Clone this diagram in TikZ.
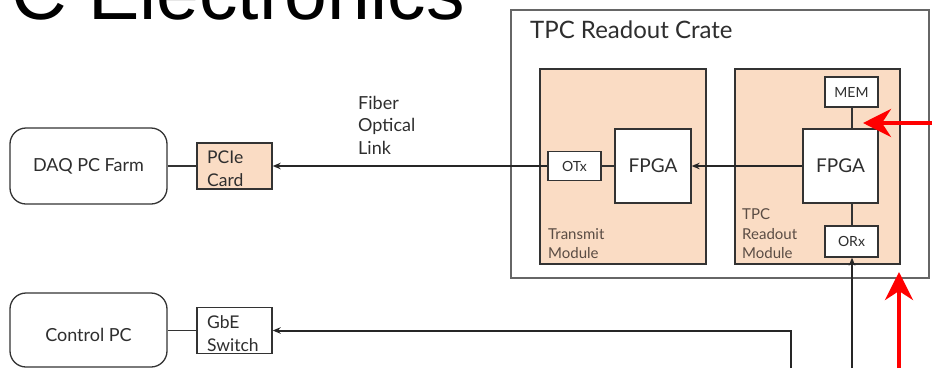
\documentclass[tikz,border=0pt]{standalone}
\usepackage{fontspec}
\setmainfont{Lato}
\newfontfamily\arialf{Liberation Sans}
\usetikzlibrary{arrows.meta}
\definecolor{peach}{HTML}{FADCC4}
\definecolor{txt}{HTML}{2E2E2E}
\definecolor{modtxt}{HTML}{5A4C44}
\definecolor{edge}{HTML}{333333}
\definecolor{crateedge}{HTML}{666666}
\definecolor{redarr}{HTML}{FF0000}
\begin{document}
\begin{tikzpicture}[x=1pt,y=-1pt,
  box/.style={draw=edge,line width=1.3pt,fill=white,inner sep=0pt,text=txt},
  modbox/.style={draw=edge,line width=1.4pt,fill=peach,inner sep=0pt},
  pcbox/.style={draw=edge,line width=1.3pt,rounded corners=16pt,fill=white,inner sep=0pt,text=txt,
    minimum width=157pt,font=\fontsize{18}{21}\selectfont},
  cardbox/.style={draw=edge,line width=1.4pt,inner sep=0pt,minimum width=75pt,minimum height=46pt},
  cardtext/.style={anchor=north west,align=left,inner sep=0pt,text=txt,font=\fontsize{17.5}{23}\selectfont},
  small/.style={font=\fontsize{14}{16}\selectfont},
  modlabel/.style={anchor=north west,align=left,inner sep=0pt,text=modtxt,font=\fontsize{15}{19.5}\selectfont},
  thin/.style={draw=edge,line width=1.3pt},
  flow/.style={draw=black!85,line width=2pt,-{Stealth[length=8pt,width=6.5pt]}},
  redflow/.style={draw=redarr,line width=4pt,-{Stealth[length=28pt,width=28pt,inset=9pt]}}
]
\useasboundingbox (0,0) rectangle (932,368);
\clip (0,0) rectangle (932,368);

% title
\node[anchor=base west,inner sep=0pt,font=\arialf\fontsize{77}{82}\selectfont] (title) at (11,19) {C Electronics};

% crate
\node[draw=crateedge,line width=1.6pt,fill=white,minimum width=418pt,minimum height=268pt,inner sep=0pt] (crate) at (720,144) {};
\node[anchor=base west,inner sep=0pt,text=txt,font=\fontsize{24}{28}\selectfont] (cratelbl) at (530,38) {TPC Readout Crate};

% modules
\node[modbox,minimum width=166pt,minimum height=195pt] (tmod) at (623,166.5) {};
\node[modbox,minimum width=165pt,minimum height=195pt] (rmod) at (817.5,166.5) {};
\node[modlabel] (tmodlbl) at (548,228) {Transmit\\Module};
\node[modlabel] (rmodlbl) at (742,208.5) {TPC\\Readout\\Module};

% inner boxes
\node[box,small,minimum width=53pt,minimum height=30pt] (mem) at (851.5,92) {MEM};
\node[box,font=\fontsize{19}{22}\selectfont,minimum width=75pt,minimum height=74pt] (fpgar) at (840.5,166) {FPGA};
\node[box,small,minimum width=53pt,minimum height=31pt] (orx) at (851.5,241.5) {ORx};
\node[box,font=\fontsize{19}{22}\selectfont,minimum width=76pt,minimum height=74pt] (fpgal) at (653,166) {FPGA};
\node[box,small,minimum width=53pt,minimum height=29pt] (otx) at (574.5,166) {OTx};

% left side
\node[pcbox,minimum height=76pt] (daq) at (88.5,166) {DAQ PC Farm};
\node[cardbox,fill=peach] (pcie) at (234.5,166) {};
\node[cardtext] (pcietxt) at (207,151) {PCIe\\Card};
\node[pcbox,minimum height=74pt] (ctrl) at (88.5,330) {};
\node[text=txt,inner sep=0pt,font=\fontsize{18}{21}\selectfont] (ctrltxt) at (88.5,334.5) {Control PC};
\node[cardbox,fill=white] (gbe) at (234.5,330.5) {};
\node[cardtext] (gbetxt) at (207,315.5) {GbE\\Switch};

\node[anchor=north west,align=left,inner sep=0pt,text=txt,font=\fontsize{18}{22.5}\selectfont] (fiber) at (358,96) {Fiber\\Optical\\Link};

% connectors
\draw[thin] (mem.south -| 852,0) -- (fpgar.north -| 852,0);
\draw[thin] (fpgar.south -| 852,0) -- (orx.north -| 852,0);
\draw[thin] (otx) -- (fpgal);
\draw[thin] (daq) -- (pcie);
\draw[thin] (ctrl.east |- gbe.west) -- (gbe.west);
\draw[flow] (fpgar) -- (fpgal);
\draw[flow] (otx) -- (pcie);

\coordinate (orxin) at (852,368);
\coordinate (gbein) at (791,368);
\draw[flow] (orxin) -- (orx.south -| orxin);
\draw[flow] (gbein) |- (gbe.east);

% red arrows
\coordinate (redv) at (899,368);
\coordinate (redvtip) at (899,272);
\coordinate (redh) at (935,123);
\coordinate (redhtip) at (863,123);
\draw[redflow] (redv) -- (redvtip);
\draw[redflow] (redh) -- (redhtip);
\end{tikzpicture}
\end{document}
